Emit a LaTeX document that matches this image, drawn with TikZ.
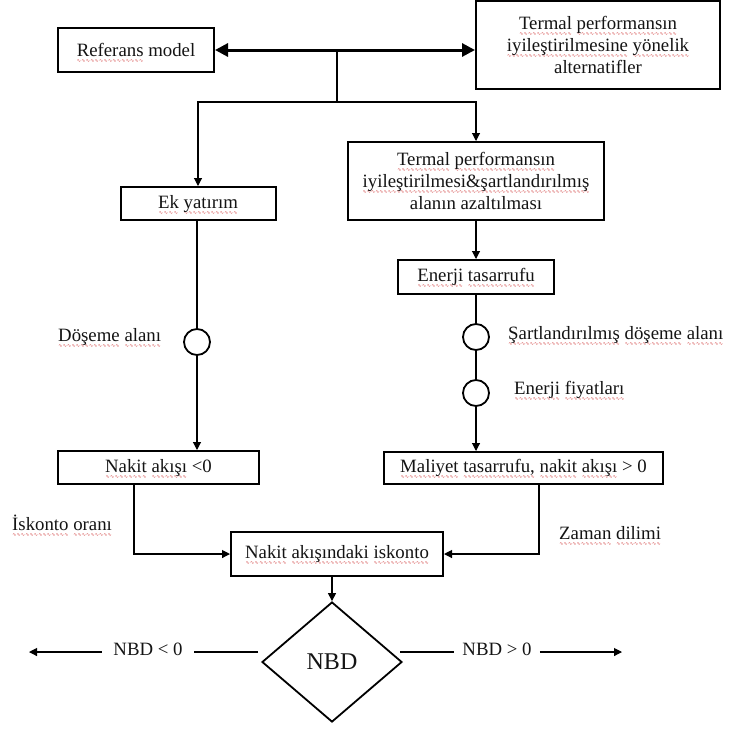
\documentclass[tikz,border=0pt]{standalone}
\usepackage{fontspec}
\setmainfont{Liberation Serif}
\newfontfamily\wavefont{DejaVu Sans}
\usetikzlibrary{arrows.meta,shapes.geometric}
\definecolor{spell}{RGB}{214,80,80}
\definecolor{ink}{RGB}{20,20,20}
\newsavebox{\wordbox}
% a word with a red wavy underline
\newcommand{\wavy}[1]{\sbox{\wordbox}{#1}%
  \rlap{\raisebox{-6pt}[0pt][0pt]{\hbox to\wd\wordbox{%
    \xleaders\hbox{\wavefont\fontsize{5}{5}\selectfont\textcolor{spell}{∿}}\hfil}}}%
  \usebox{\wordbox}}
\begin{document}
\begin{tikzpicture}[x=1pt,y=-1pt,
  font=\fontsize{18.8}{22}\selectfont, text=ink,
  box/.style={draw, line width=2pt, align=center, inner sep=0pt},
  conn/.style={line width=1.1pt},
  arr/.style={conn, -{Triangle[length=8pt,width=8pt]}},
  bigarr/.style={line width=3pt, {Triangle[length=13pt,width=13pt]}-{Triangle[length=13pt,width=13pt]}},
  knot/.style={circle, draw, line width=1.8pt, minimum size=26pt, inner sep=0pt},
  lbl/.style={align=center, inner sep=0pt}]
\path[use as bounding box, fill=white] (0,0) rectangle (730,729);

% boxes
\node[box, minimum width=156pt, minimum height=44pt] (ref) at (136,50) {\wavy{Referans} model};
\node[box, minimum width=244pt, minimum height=88pt] (alt) at (598,45)
  {\wavy{Termal} \wavy{performansın}\\ \wavy{iyileştirilmesine} \wavy{yönelik}\\ alternatifler};
\node[box, minimum width=155pt, minimum height=33pt] (ek) at (198,203.5) {\wavy{Ek} \wavy{yatırım}};
\node[box, minimum width=256pt, minimum height=78pt] (term) at (476,181)
  {\wavy{Termal} \wavy{performansın}\\ \wavy{iyileştirilmesi\&şartlandırılmış}\\ alanın azaltılması};
\node[box, minimum width=156pt, minimum height=34pt] (en) at (476,277) {\wavy{Enerji} \wavy{tasarrufu}};
\node[knot] (c1) at (197,342) {};
\node[knot] (c2) at (476,337) {};
\node[knot] (c3) at (476,393) {};
\node[box, minimum width=201pt, minimum height=33pt] (nak) at (158.5,467.5) {\wavy{Nakit} \wavy{akışı} <0};
\node[box, minimum width=279pt, minimum height=32pt] (mal) at (523.5,468)
  {\wavy{Maliyet} \wavy{tasarrufu,} \wavy{nakit} \wavy{akışı} > 0};
\node[box, minimum width=212pt, minimum height=44pt] (isk) at (337,554)
  {\wavy{Nakit} \wavy{akışındaki} \wavy{iskonto}};
\node[draw, diamond, line width=1.8pt, minimum width=140pt, minimum height=120pt, inner sep=0pt,
  font=\fontsize{24}{28}\selectfont] (nbd) at (332,662) {NBD};

% side labels
\node[lbl, anchor=west] (tdos) at (58,337) {\wavy{Döşeme} \wavy{alanı}};
\node[lbl, anchor=west] (tsart) at (508,335) {\wavy{Şartlandırılmış} \wavy{döşeme} \wavy{alanı}};
\node[lbl, anchor=west] (tfiy) at (514,390) {\wavy{Enerji} \wavy{fiyatları}};
\node[lbl, anchor=west] (tisk) at (12,523) {\wavy{İskonto} \wavy{oranı}};
\node[lbl, anchor=west] (tzam) at (559,533) {\wavy{Zaman} \wavy{dilimi}};

% connectors
\draw[bigarr] (ref.east) -- (ref.east -| alt.west);
\coordinate (j1) at (337,50);
\coordinate (j2) at (337,102);
\draw[conn] (j1) -- (j2);
\draw[arr] (j2) -| (ek.north);
\draw[arr] (j2) -| (term.north);
\draw[arr] (term.south) -- (en.north);
\draw[conn] (en.south) -- (c2.north);
\draw[conn] (c2.south) -- (c3.north);
\draw[arr] (c3.south) -- (c3.south |- mal.north);
\draw[conn] (ek.south -| c1) -- (c1.north);
\draw[arr] (c1.south) -- (c1.south |- nak.north);
\draw[arr] ([xshift=-24.5pt]nak.south) |- (isk.west);
\draw[arr] ([xshift=15.5pt]mal.south) |- (isk.east);
\draw[arr] ([xshift=-5pt]isk.south) -- (nbd.north);

% outcomes of the decision
\coordinate (lt) at (258,652);
\coordinate (le) at (29,652);
\coordinate (rt) at (400,652);
\coordinate (re) at (622,652);
\node[lbl, inner xsep=11.5pt] (nl) at (148,649) {NBD < 0};
\node[lbl, inner xsep=8pt] (nr) at (497,649) {NBD > 0};
\draw[conn] (lt) -- (lt -| nl.east);
\draw[arr] (le -| nl.west) -- (le);
\draw[conn] (rt) -- (rt -| nr.west);
\draw[arr] (re -| nr.east) -- (re);
\end{tikzpicture}
\end{document}
